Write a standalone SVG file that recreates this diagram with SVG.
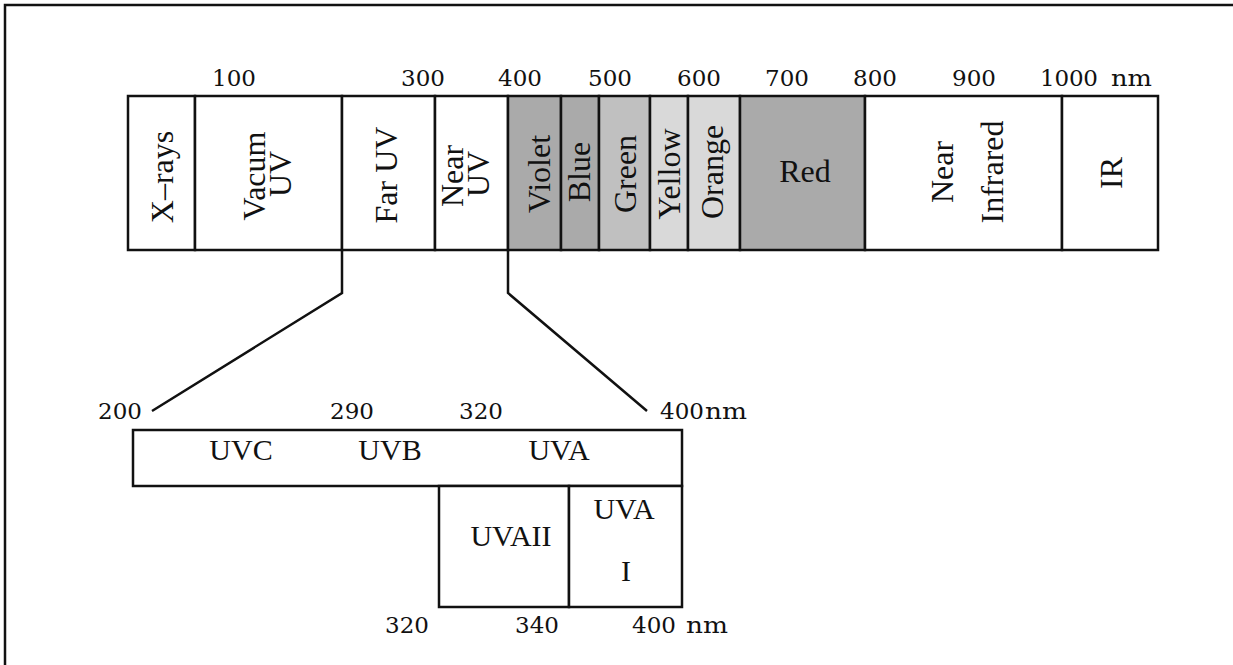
<svg xmlns="http://www.w3.org/2000/svg" width="1233" height="665" viewBox="0 0 1233 665">
<style>
.num{font-family:"DejaVu Serif",serif;font-size:23px;fill:#111}
.lab{font-family:"Liberation Serif","Times New Roman",serif;font-size:32px;fill:#111;text-anchor:middle}
.lab2{font-family:"Liberation Serif","Times New Roman",serif;font-size:30px;fill:#111;text-anchor:middle}
.cell{stroke:#111;stroke-width:2.5}
.ln{fill:none;stroke:#111;stroke-width:2.5}
</style>
<rect width="1233" height="665" fill="#fff"/>
<path class="ln" d="M5,680 V5 H1245" stroke-width="3"/>
<g id="scale-top">
<text class="num" x="212" y="86">100</text>
<text class="num" x="401" y="86">300</text>
<text class="num" x="498" y="86">400</text>
<text class="num" x="588" y="86">500</text>
<text class="num" x="677" y="86">600</text>
<text class="num" x="765" y="86">700</text>
<text class="num" x="853" y="86">800</text>
<text class="num" x="952" y="86">900</text>
<text class="num" x="1040" y="86" textLength="58">1000</text>
<text class="num" x="1111" y="86" textLength="41" lengthAdjust="spacingAndGlyphs">nm</text>
</g>
<g id="xrays"><rect class="cell" x="128" y="96" width="67" height="154" fill="#fff"/><text class="lab" transform="translate(173,177) rotate(-90)">X–rays</text></g>
<g id="vacuum-uv"><rect class="cell" x="195" y="96" width="147" height="154" fill="#fff"/><text class="lab" transform="translate(265,176) rotate(-90)">Vacum</text><text class="lab" transform="translate(291,174) rotate(-90)">UV</text></g>
<g id="far-uv"><rect class="cell" x="342" y="96" width="93" height="154" fill="#fff"/><text class="lab" transform="translate(397,175) rotate(-90)">Far UV</text></g>
<g id="near-uv"><rect class="cell" x="435" y="96" width="73" height="154" fill="#fff"/><text class="lab" transform="translate(463,176) rotate(-90)">Near</text><text class="lab" transform="translate(489,174) rotate(-90)">UV</text></g>
<g id="violet"><rect class="cell" x="508" y="96" width="53" height="154" fill="#aaaaaa"/><text class="lab" transform="translate(550,174) rotate(-90)">Violet</text></g>
<g id="blue"><rect class="cell" x="561" y="96" width="38" height="154" fill="#aaaaaa"/><text class="lab" transform="translate(590,172) rotate(-90)">Blue</text></g>
<g id="green"><rect class="cell" x="599" y="96" width="51" height="154" fill="#c0c0c0"/><text class="lab" transform="translate(636,174) rotate(-90)">Green</text></g>
<g id="yellow"><rect class="cell" x="650" y="96" width="38" height="154" fill="#d9d9d9"/><text class="lab" transform="translate(680,174) rotate(-90)">Yellow</text></g>
<g id="orange"><rect class="cell" x="688" y="96" width="52" height="154" fill="#d9d9d9"/><text class="lab" transform="translate(723,172) rotate(-90)">Orange</text></g>
<g id="red"><rect class="cell" x="740" y="96" width="125" height="154" fill="#aaaaaa"/><text class="lab" x="805" y="182">Red</text></g>
<g id="near-infrared"><rect class="cell" x="865" y="96" width="197" height="154" fill="#fff"/><text class="lab" transform="translate(953,172) rotate(-90)">Near</text><text class="lab" transform="translate(1003,172) rotate(-90)">Infrared</text></g>
<g id="ir"><rect class="cell" x="1062" y="96" width="96" height="154" fill="#fff"/><text class="lab" transform="translate(1122,173) rotate(-90)">IR</text></g>
<g id="connectors">
<path class="ln" d="M342,250 V293 L152,411"/>
<path class="ln" d="M508,250 V293 L647,411"/>
</g>
<g id="scale-uv">
<text class="num" x="98" y="419">200</text>
<text class="num" x="330" y="419">290</text>
<text class="num" x="459" y="419">320</text>
<text class="num" x="660" y="419">400</text>
<text class="num" x="705" y="419" textLength="42" lengthAdjust="spacingAndGlyphs">nm</text>
</g>
<g id="uv-band"><rect class="cell" x="133" y="430" width="549" height="56" fill="#fff"/>
<text class="lab2" x="241" y="460">UVC</text>
<text class="lab2" x="390" y="460">UVB</text>
<text class="lab2" x="559" y="460">UVA</text></g>
<g id="uvaii"><rect class="cell" x="439" y="486" width="130" height="121" fill="#fff"/><text class="lab2" x="511" y="546">UVAII</text></g>
<g id="uvai"><rect class="cell" x="569" y="486" width="113" height="121" fill="#fff"/><text class="lab2" x="624" y="519">UVA</text><text class="lab2" x="626" y="581">I</text></g>
<g id="scale-uva">
<text class="num" x="385" y="633">320</text>
<text class="num" x="515" y="633">340</text>
<text class="num" x="632" y="633">400</text>
<text class="num" x="686" y="633" textLength="42" lengthAdjust="spacingAndGlyphs">nm</text>
</g>
</svg>
